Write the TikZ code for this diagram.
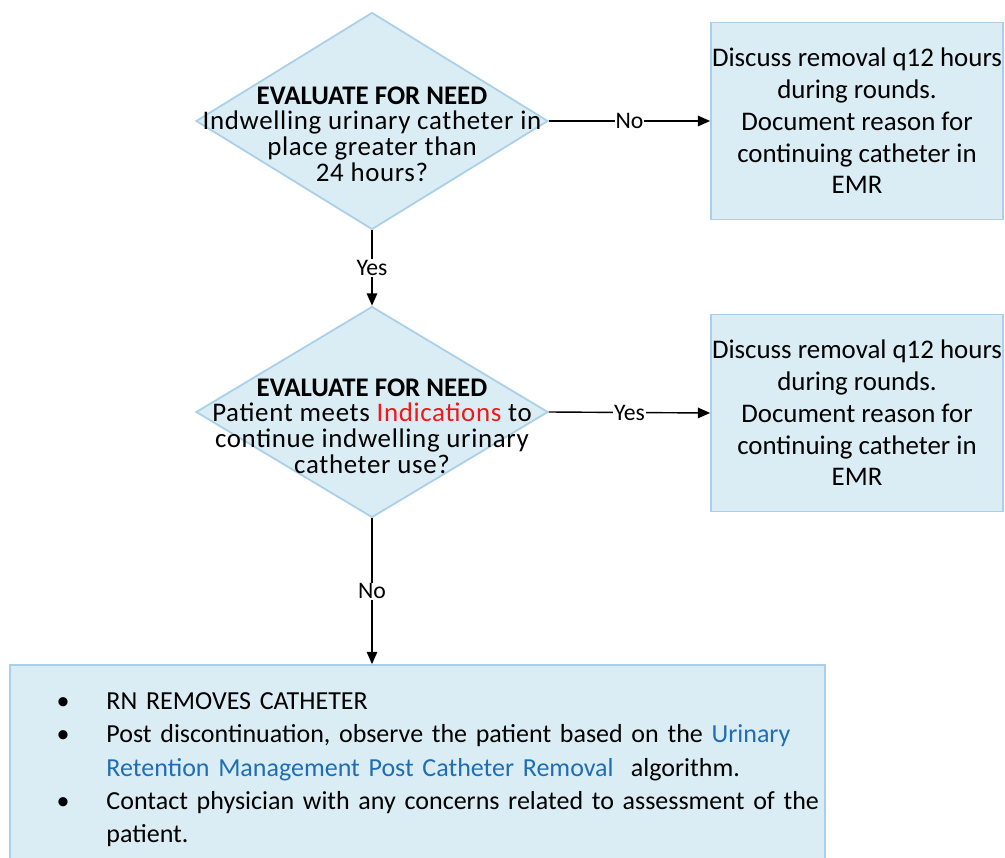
\documentclass[tikz,border=0pt]{standalone}
\usepackage{fontspec}
\setmainfont{Carlito}
\newfontfamily\spacedfont[LetterSpace=2.5]{Carlito}
\usepackage{xcolor}
\usepackage{enumitem}
\usetikzlibrary{shapes,arrows.meta,positioning,calc}
\definecolor{boxfill}{HTML}{DAEDF4}
\definecolor{boxline}{HTML}{A9D0E8}
\definecolor{linkblue}{HTML}{1F6DB5}
\definecolor{indired}{HTML}{F01818}
\setlength{\lineskiplimit}{-8pt}

\begin{document}
\begin{tikzpicture}[
    decision/.style={diamond, draw=boxline, fill=boxfill, line width=1pt, minimum width=7.04cm, minimum height=4.34cm, inner sep=0pt},
    action/.style={rectangle, draw=boxline, fill=boxfill, line width=1pt, minimum width=5.84cm, minimum height=3.94cm, inner sep=0pt, align=center, font=\fontsize{15.3}{18.1}\selectfont},
    qtext/.style={align=center, font=\fontsize{15.3}{14.6}\spacedfont},
    flow/.style={-{Triangle[length=7pt,width=6pt]}, line width=0.8pt},
    answer/.style={fill=white, inner sep=0.6pt, font=\fontsize{13.5}{15}\selectfont}
]
    \useasboundingbox (0,0) rectangle (20.1,17.14);

    % First check
    \node [decision] (need) at (7.44, 14.72) {};
    \node [qtext] (needtext) at ($(need.center)+(0,-0.26)$) {{\rmfamily\bfseries EVALUATE FOR NEED}\\Indwelling urinary catheter in\\place greater than\\24 hours?};
    \node [action] (discussA) at (17.14, 14.72) {Discuss removal q12 hours\\during rounds.\\Document reason for\\continuing catheter in\\EMR};

    % Second check
    \node [decision, minimum height=4.22cm] (indic) at (7.44, 8.9) {};
    \node [qtext] (indictext) at ($(indic.center)+(0,-0.28)$) {{\rmfamily\bfseries EVALUATE FOR NEED}\\Patient meets {\color{indired}Indications} to\\continue indwelling urinary\\catheter use?};
    \node [action] (discussB) at (17.14, 8.88) {Discuss removal q12 hours\\during rounds.\\Document reason for\\continuing catheter in\\EMR};

    % Removal
    \node [rectangle, draw=boxline, fill=boxfill, line width=1pt, minimum width=16.3cm, minimum height=4cm] (remove) at (8.35, 1.84) {};
    \node [anchor=north west, text width=17.5cm, inner sep=0pt, font=\fontsize{14.8}{18.9}\selectfont] (steps) at ($(remove.north west)+(0,-0.24)$) {%
        \raggedright
        \begin{itemize}[leftmargin=1.94cm, labelsep=0.74cm, itemsep=0pt, topsep=0pt, parsep=0pt, partopsep=0pt]
        \item RN REMOVES CATHETER
        \item Post discontinuation, observe the patient based on the {\color{linkblue}Urinary}\newline
              {\color{linkblue}Retention Management Post Catheter Removal}\ \ algorithm.
        \item Contact physician with any concerns related to assessment of the\newline patient.
        \end{itemize}};

    % Connectors
    \draw [flow] (need.east) -- (discussA.west) node [answer, midway] {No};
    \draw [flow] (need.south) -- (indic.north) node [answer, midway] {Yes};
    \draw [flow] (indic.east) -- (discussB.west) node [answer, midway] {Yes};
    \draw [flow] (indic.south) -- (indic.south |- remove.north) node [answer, midway] {No};
\end{tikzpicture}
\end{document}
